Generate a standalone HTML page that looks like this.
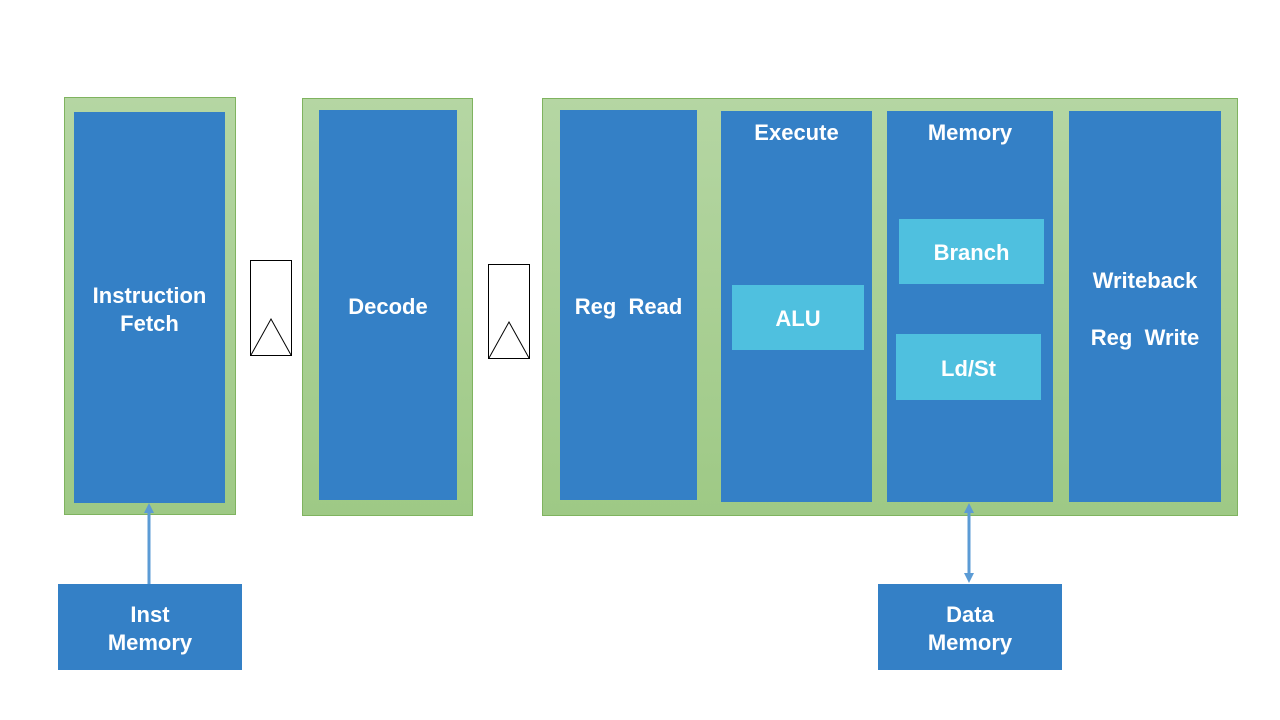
<!DOCTYPE html>
<html><head><style>
body{margin:0;width:1280px;height:720px;background:#fff;position:relative;overflow:hidden;font-family:"Liberation Sans","NanumGothic",sans-serif;}
div{position:absolute;box-sizing:border-box;}
.g{background:linear-gradient(#b5d6a3,#9ec985);border:1px solid #7fb35f;}
.b{background:#3480c6;color:#fff;font-weight:bold;font-size:22px;display:flex;align-items:center;justify-content:center;text-align:center;line-height:28px;padding-top:4px;}
.c{background:#4fc0df;color:#fff;font-weight:bold;font-size:22px;display:flex;align-items:center;justify-content:center;padding-top:3px;}
.t{color:#fff;font-weight:bold;font-size:22px;text-align:center;width:100%;top:8px;}
.l{background:#fff;border:1px solid #000;}
</style></head><body>
<div class="g" style="left:64px;top:97px;width:172px;height:418px"></div>
<div class="b" style="left:74px;top:112px;width:151px;height:391px">Instruction<br>Fetch</div>
<div class="g" style="left:302px;top:98px;width:171px;height:418px"></div>
<div class="b" style="left:319px;top:110px;width:138px;height:390px">Decode</div>
<div class="g" style="left:542px;top:98px;width:696px;height:418px"></div>
<div class="b" style="left:560px;top:110px;width:137px;height:390px">Reg&nbsp;&nbsp;Read</div>
<div class="b" style="left:721px;top:111px;width:151px;height:391px"><div class="t">Execute</div></div>
<div class="b" style="left:887px;top:111px;width:166px;height:391px"><div class="t">Memory</div></div>
<div class="b" style="left:1069px;top:111px;width:152px;height:391px;line-height:57px">Writeback<br>Reg&nbsp;&nbsp;Write</div>
<div class="c" style="left:732px;top:285px;width:132px;height:65px">ALU</div>
<div class="c" style="left:899px;top:219px;width:145px;height:65px">Branch</div>
<div class="c" style="left:896px;top:334px;width:145px;height:66px">Ld/St</div>
<div class="b" style="left:58px;top:584px;width:184px;height:86px">Inst<br>Memory</div>
<div class="b" style="left:878px;top:584px;width:184px;height:86px">Data<br>Memory</div>
<div class="l" style="left:250px;top:260px;width:42px;height:96px"></div>
<div class="l" style="left:488px;top:264px;width:42px;height:95px"></div>
<svg width="1280" height="720" style="position:absolute;left:0;top:0">
<polyline points="251,355 271,319 291,355" fill="none" stroke="#000" stroke-width="1"/>
<polyline points="489,358 509,322 529,358" fill="none" stroke="#000" stroke-width="1"/>
<line x1="149" y1="584" x2="149" y2="512" stroke="#5b9bd5" stroke-width="3"/>
<polygon points="149,503 144,513 154,513" fill="#5b9bd5"/>
<line x1="969" y1="512" x2="969" y2="574" stroke="#5b9bd5" stroke-width="3"/>
<polygon points="969,503 964,513 974,513" fill="#5b9bd5"/>
<polygon points="969,583 964,573 974,573" fill="#5b9bd5"/>
</svg>
</body></html>
